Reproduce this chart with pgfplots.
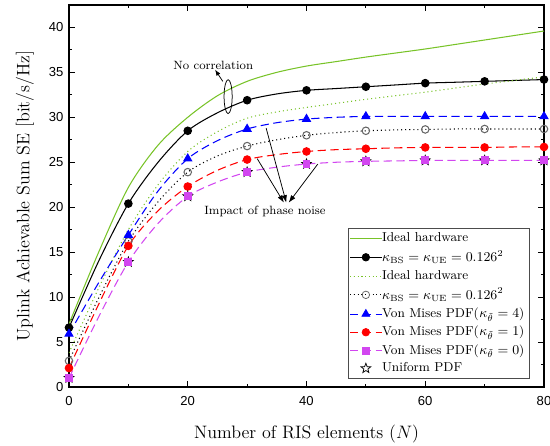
\documentclass[border=0pt]{standalone}
\usepackage{fontspec}
\usepackage{pgfplots}
\pgfplotsset{compat=1.18}
\usetikzlibrary{arrows.meta}
\newfontfamily\arial{Liberation Sans}
\definecolor{lgreen}{RGB}{120,195,40}
\definecolor{mmag}{RGB}{210,70,240}
\pgfdeclareplotmark{ostar}{%
  \pgfpathmoveto{\pgfpointpolar{90}{\pgfplotmarksize}}%
  \pgfpathlineto{\pgfpointpolar{126}{0.42\pgfplotmarksize}}%
  \pgfpathlineto{\pgfpointpolar{162}{\pgfplotmarksize}}%
  \pgfpathlineto{\pgfpointpolar{198}{0.42\pgfplotmarksize}}%
  \pgfpathlineto{\pgfpointpolar{234}{\pgfplotmarksize}}%
  \pgfpathlineto{\pgfpointpolar{270}{0.42\pgfplotmarksize}}%
  \pgfpathlineto{\pgfpointpolar{306}{\pgfplotmarksize}}%
  \pgfpathlineto{\pgfpointpolar{342}{0.42\pgfplotmarksize}}%
  \pgfpathlineto{\pgfpointpolar{18}{\pgfplotmarksize}}%
  \pgfpathlineto{\pgfpointpolar{54}{0.42\pgfplotmarksize}}%
  \pgfpathclose
  \pgfusepathqfillstroke}
\begin{document}
\begin{tikzpicture}
\begin{axis}[
  width=316.7pt, height=254.7pt, scale only axis,
  xmin=0, xmax=80, ymin=0, ymax=42.5,
  xtick={0,20,...,80}, minor x tick num=1,
  ytick={0,5,...,40}, minor y tick num=1,
  tick align=inside, xtick pos=both, ytick pos=both,
  xticklabel pos=lower, yticklabel pos=left,
  major tick length=4pt, minor tick length=2pt,
  every tick/.style={black, line width=0.6pt},
  axis line style={line width=0.8pt},
  /pgf/number format/assume math mode=true,
  ticklabel style={font=\arial\fontsize{8.7}{10}\selectfont},
  xticklabel style={yshift=-2.5pt},
  xlabel={Number of RIS elements ($N$)},
  ylabel={Uplink Achievable Sum SE [bit/s/Hz]},
  label style={font=\fontsize{12}{14}\selectfont},
  xlabel style={yshift=-6pt},
  ylabel style={yshift=3pt},
  legend cell align=left,
  legend style={at={(0.969,0.021)}, anchor=south east, font=\fontsize{8.6}{10.3}\selectfont,
    draw=black!70, line width=0.5pt, inner sep=1pt, row sep=0.2pt,
    /tikz/every odd column/.append style={column sep=-2pt}},
  legend image code/.code={\draw[#1, mark repeat=2, mark phase=2] plot coordinates {(0cm,0cm) (0.37cm,0cm) (0.74cm,0cm)};},
  line width=0.7pt, mark repeat=2,
]
% Ideal hardware, no correlation
\addplot[lgreen, solid, smooth, no marks] coordinates {
 (0,7.0) (5,15.0) (10,22.2) (15,26.9) (20,30.0) (25,32.4) (30,34.0) (35,35.0) (40,35.7) (45,36.2) (50,36.7) (55,37.15) (60,37.6) (65,38.1) (70,38.6) (75,39.1) (80,39.6)};
\addlegendentry{Ideal hardware}
% kappa, no correlation
\addplot[black, solid, smooth, mark=*, mark size=2.5pt] coordinates {
 (0,6.6) (5,14.0) (10,20.4) (15,25.0) (20,28.5) (25,30.5) (30,31.9) (35,32.6) (40,33.0) (45,33.2) (50,33.4) (55,33.6) (60,33.8) (65,33.9) (70,34.0) (75,34.1) (80,34.2)};
\addlegendentry{$\kappa_{\mathrm{BS}}=\kappa_{\mathrm{UE}}=0.126^2$}
% Ideal hardware with phase noise
\addplot[lgreen, dotted, smooth, no marks] coordinates {
 (0,3.8) (5,11.0) (10,17.5) (15,22.5) (20,26.2) (25,28.4) (30,29.9) (35,30.6) (40,31.1) (45,31.55) (50,32.0) (55,32.4) (60,32.8) (65,33.25) (70,33.7) (75,34.1) (80,34.5)};
\addlegendentry{Ideal hardware}
% kappa with phase noise
\addplot[black, dotted, smooth, mark=o, mark size=2.5pt, mark options={solid, fill=white, draw=black!60}] coordinates {
 (0,2.9) (5,9.9) (10,16.2) (15,20.6) (20,23.9) (25,25.7) (30,26.8) (35,27.5) (40,28.0) (45,28.3) (50,28.5) (55,28.6) (60,28.65) (65,28.7) (70,28.7) (75,28.7) (80,28.7)};
\addlegendentry{$\kappa_{\mathrm{BS}}=\kappa_{\mathrm{UE}}=0.126^2$}
% Von Mises 4
\addplot[blue, dash pattern=on 5.5pt off 3pt, smooth, mark=triangle*, mark size=3pt, mark options={solid}] coordinates {
 (0,5.9) (5,11.6) (10,16.9) (15,21.8) (20,25.4) (25,27.4) (30,28.7) (35,29.4) (40,29.8) (45,30.0) (50,30.1) (55,30.1) (60,30.1) (65,30.1) (70,30.1) (75,30.1) (80,30.1)};
\addlegendentry{Von Mises PDF(\kern0.4pt$\kappa_{\tilde{\theta}}=4$)}
% Von Mises 1
\addplot[red, dash pattern=on 5.5pt off 3pt, smooth, mark=*, mark size=2.5pt, mark options={solid}] coordinates {
 (0,2.1) (5,9.2) (10,15.7) (15,19.6) (20,22.3) (25,24.1) (30,25.3) (35,25.85) (40,26.2) (45,26.4) (50,26.5) (55,26.6) (60,26.65) (65,26.65) (70,26.65) (75,26.7) (80,26.7)};
\addlegendentry{Von Mises PDF(\kern0.4pt$\kappa_{\tilde{\theta}}=1$)}
% Uniform PDF stars (behind squares)
\addplot[black, only marks, mark=ostar, mark size=3.4pt, mark repeat=1, mark options={fill=white, line width=0.5pt}, forget plot] coordinates {
 (0,1.0) (10,13.9) (20,21.2) (30,23.9) (40,24.8) (50,25.1) (60,25.2) (70,25.2) (80,25.2)};
% Von Mises 0
\addplot[mmag, dash pattern=on 5.5pt off 3pt, smooth, mark=square*, mark size=2.3pt, mark options={solid}] coordinates {
 (0,1.0) (5,7.8) (10,13.9) (15,18.2) (20,21.2) (25,22.8) (30,23.9) (35,24.45) (40,24.8) (45,25.0) (50,25.1) (55,25.15) (60,25.2) (65,25.2) (70,25.2) (75,25.2) (80,25.2)};
\addlegendentry{Von Mises PDF(\kern0.4pt$\kappa_{\tilde{\theta}}=0$)}
\addlegendimage{black, only marks, mark=ostar, mark size=3.4pt, mark options={fill=white, line width=0.5pt}}
\addlegendentry{Uniform PDF}
% annotations
\draw[line width=0.5pt] (axis cs:26.8,32.3) ellipse [x radius=2.7pt, y radius=11.3pt];
\draw[line width=0.5pt, -{Latex[length=4pt,width=3pt]}] (axis cs:25.9,34.0) -- (axis cs:24.6,35.3);
\node[font=\fontsize{8}{9}\selectfont] at (axis cs:24.3,35.8) {No correlation};
\draw[line width=0.5pt, -{Latex[length=5pt,width=3.5pt]}] (axis cs:33.2,28.8) -- (axis cs:36.6,20.5);
\draw[line width=0.5pt, -{Latex[length=5pt,width=3.5pt]}] (axis cs:31.7,25.4) -- (axis cs:36.2,20.5);
\draw[line width=0.5pt, -{Latex[length=5pt,width=3.5pt]}] (axis cs:41.9,24.8) -- (axis cs:37.0,20.5);
\node[font=\fontsize{8}{9}\selectfont] at (axis cs:33.0,19.5) {Impact of phase noise};
\end{axis}
\pgfresetboundingbox
\path ([shift={(-46pt,-38.7pt)}]current axis.south west) rectangle ([shift={(4pt,3.3pt)}]current axis.north east);
\end{tikzpicture}
\end{document}
